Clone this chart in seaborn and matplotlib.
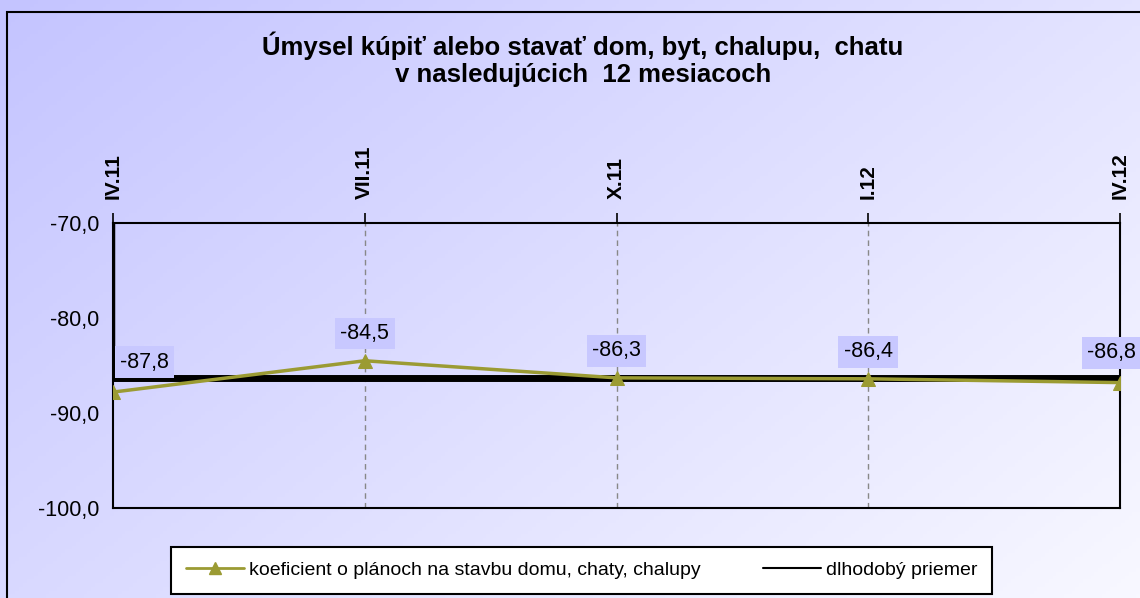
import numpy as np
import pandas as pd
import matplotlib.pyplot as plt
import seaborn as sns
from matplotlib.patches import Rectangle
from matplotlib.lines import Line2D

# --- data ---
periods = ['IV.11', 'VII.11', 'X.11', 'I.12', 'IV.12']
koeficient = [-87.8, -84.5, -86.3, -86.4, -86.8]
priemer = [-86.3, -86.3, -86.3, -86.3, -86.3]
y_ticks = [-100.0, -90.0, -80.0, -70.0]

title = 'Úmysel kúpiť alebo stavať dom, byt, chalupu,  chatu\nv nasledujúcich  12 mesiacoch'
label_koef = 'koeficient o plánoch na stavbu domu, chaty, chalupy'
label_avg = 'dlhodobý priemer'

OLIVE = '#9b9b33'
BOX = '#c8c8ff'

sns.set_theme(style='white')
plt.rcParams['font.family'] = ['Liberation Sans', 'DejaVu Sans']
plt.rcParams.update({'text.color': 'black', 'xtick.color': 'black',
                     'ytick.color': 'black', 'axes.labelcolor': 'black'})

df = pd.DataFrame({'pos': np.arange(len(periods)), 'period': periods,
                   'koef': koeficient, 'avg': priemer})

fig = plt.figure(figsize=(11.4, 5.98), dpi=100)

# gradient background (lavender top-left -> almost white bottom-right)
bg = fig.add_axes([0, 0, 1, 1], zorder=-5)
gx, gy = np.meshgrid(np.linspace(0, 1, 300), np.linspace(0, 1, 160))
t = (gx * 0.6 + gy * 0.4)
c0 = np.array([196, 196, 255]) / 255
c1 = np.array([248, 248, 255]) / 255
img = c0[None, None, :] * (1 - t[..., None]) + c1[None, None, :] * t[..., None]
bg.imshow(img, aspect='auto', extent=[0, 1, 0, 1], origin='upper')
bg.set_axis_off()
fig.patches.append(Rectangle((7 / 1140, -0.05), 1.1, 1 - 12 / 598 + 0.05,
                             transform=fig.transFigure, fill=False,
                             edgecolor='black', linewidth=1.5, zorder=10))

ax = fig.add_axes([113 / 1140, 1 - 508 / 598, (1120 - 113) / 1140, (508 - 223) / 598])
ax.set_facecolor('none')

# long-term average
sns.lineplot(data=df, x='pos', y='avg', ax=ax, color='black', linewidth=5,
             legend=False, zorder=3)
ax.plot([0, 0], [y_ticks[-1], priemer[0]], color='black', linewidth=2.5, zorder=3)

# coefficient
sns.lineplot(data=df, x='pos', y='koef', ax=ax, color=OLIVE, linewidth=2.5,
             marker='^', markersize=10, markeredgecolor=OLIVE,
             legend=False, zorder=4)

# data labels
last = len(koeficient) - 1
for i, v in enumerate(koeficient):
    s = f'{v:.1f}'.replace('.', ',')
    if i == 0:
        off, ha = (5, 14), 'left'
    elif i == last:
        off, ha = (-6, 14), 'center'
    else:
        off, ha = (0, 12), 'center'
    ax.annotate(s, (i, v), xytext=off, textcoords='offset points',
                ha=ha, va='bottom', fontsize=15.5,
                bbox=dict(boxstyle='square,pad=0.25', fc=BOX, ec='none'), zorder=6,
                annotation_clip=False)

ax.set_xlim(0, len(periods) - 1)
ax.set_ylim(y_ticks[0], y_ticks[-1])
ax.set_yticks(y_ticks)
ax.set_yticklabels([f'{v:.1f}'.replace('.', ',') for v in y_ticks], fontsize=15.5)
ax.set_xticks(df['pos'])
ax.set_xticklabels(periods, rotation=90, fontsize=15, fontweight='bold')
ax.xaxis.tick_top()
ax.tick_params(axis='x', direction='out', length=7, width=1.2, color='black', pad=10)
ax.tick_params(axis='y', direction='out', length=5, width=1.2, color='black', pad=5)
ax.set_xlabel('')
ax.set_ylabel('')
for x in df['pos'][1:]:
    ax.axvline(x, color='#888888', linestyle=(0, (4, 3)), linewidth=1, zorder=1)
for side in ax.spines.values():
    side.set_color('black')
    side.set_linewidth(1.5)

handles = [Line2D([], [], color=OLIVE, linewidth=2, marker='^', markersize=9),
           Line2D([], [], color='black', linewidth=1.5)]
leg = fig.legend(handles, [label_koef, label_avg], loc='upper center',
                 bbox_to_anchor=(0.5 * (168 + 995) / 1140, 1 - 547 / 598),
                 ncol=2, frameon=True, fancybox=False, edgecolor='black',
                 framealpha=1, facecolor='white', handlelength=3.0,
                 handletextpad=0.25, columnspacing=3.2, borderpad=0.75,
                 borderaxespad=0, prop={'size': 14})
leg.get_frame().set_linewidth(1.5)

fig.text(583 / 1140, 1 - 31 / 598, title, ha='center', va='top',
         fontsize=18.5, fontweight='bold', linespacing=1.2)

fig.savefig('out.png', dpi=100)
